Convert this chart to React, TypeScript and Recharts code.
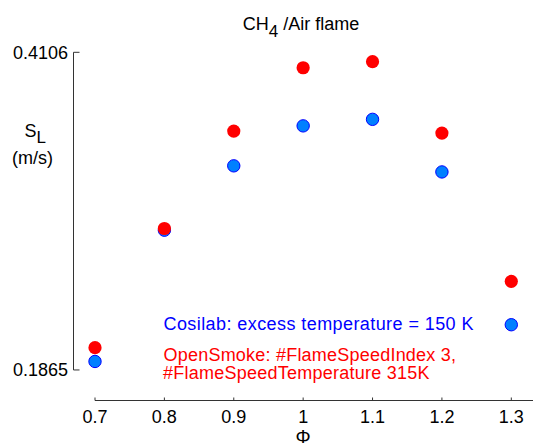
import React from 'react';
import { ScatterChart, Scatter, XAxis, YAxis, ReferenceLine } from 'recharts';

const phi = [0.7, 0.8, 0.9, 1.0, 1.1, 1.2, 1.3];
const cosilab = [0.1925, 0.2851, 0.3305, 0.3587, 0.3633, 0.3262, 0.2184];
const openSmoke = [0.2022, 0.2863, 0.355, 0.3997, 0.404, 0.3536, 0.249];
const xTicks = [0.7, 0.8, 0.9, 1.0, 1.1, 1.2, 1.3];
const yTicks = [0.1865, 0.4106];
const xDomain = [0.66901, 1.33128];
const yDomain = [0.16495, 0.4106];

const cosilabData = phi.map((x, i) => ({ x, y: cosilab[i] }));
const openSmokeData = phi.map((x, i) => ({ x, y: openSmoke[i] }));

const FONT = '"Liberation Sans", Arial, sans-serif';
const AXIS = '#333333';

const BlueDot = (p: any) => (
  <circle cx={p.cx} cy={p.cy} r={6.2} fill="#0080ff" stroke="#0000ff" strokeWidth={1} />
);
const RedDot = (p: any) => <circle cx={p.cx} cy={p.cy} r={6.6} fill="#ff0000" />;

const fmtX = (v: number) => (Math.abs(v - 1) < 1e-9 ? '1' : v.toFixed(1));

export default function App() {
  return (
    <div style={{ position: 'absolute', left: 0, top: 0, width: 534, height: 446, background: '#fff', fontFamily: FONT }}>
      <ScatterChart
        width={534}
        height={446}
        margin={{ top: 52.3, right: 1, bottom: 0, left: 0 }}
      >
        <XAxis
          type="number"
          dataKey="x"
          domain={xDomain}
          allowDataOverflow
          ticks={xTicks}
          tickFormatter={fmtX}
          height={45.5}
          axisLine={false}
          tickLine={{ stroke: AXIS }}
          tickSize={-3}
          tickMargin={13.2}
          tick={{ fill: '#000', fontSize: 18, fontFamily: FONT }}
          interval={0}
        />
        <YAxis
          type="number"
          dataKey="y"
          domain={yDomain}
          allowDataOverflow
          ticks={yTicks}
          tickFormatter={(v: number) => v.toFixed(4)}
          width={73.5}
          axisLine={false}
          tickLine={{ stroke: AXIS }}
          tickSize={-6}
          tickMargin={11.5}
          tick={{ fill: '#000', fontSize: 18, fontFamily: FONT }}
          interval={0}
        />
        <ReferenceLine
          segment={[{ x: xDomain[0], y: yTicks[0] }, { x: xDomain[0], y: yTicks[1] }]}
          stroke={AXIS}
          strokeWidth={1}
          ifOverflow="visible"
        />
        <ReferenceLine
          segment={[{ x: xTicks[0], y: yDomain[0] }, { x: xDomain[1], y: yDomain[0] }]}
          stroke={AXIS}
          strokeWidth={1}
          ifOverflow="visible"
        />
        <Scatter data={cosilabData} shape={BlueDot} isAnimationActive={false} />
        <Scatter data={openSmokeData} shape={RedDot} isAnimationActive={false} />
      </ScatterChart>
      <svg
        width={534}
        height={446}
        style={{ position: 'absolute', left: 0, top: 0, pointerEvents: 'none' }}
        fontFamily={FONT}
        fontSize={18}
      >
        <text x={301} y={30} textAnchor="middle" fill="#000">
          CH<tspan dy={6.5} fontSize={17}>4</tspan>
          <tspan dy={-6.5}> /Air flame</tspan>
        </text>
        <text x={24.5} y={137} fill="#000">
          S<tspan dy={6.3} fontSize={17}>L</tspan>
        </text>
        <text x={32.5} y={164} textAnchor="middle" fill="#000">(m/s)</text>
        <text x={303} y={443} textAnchor="middle" fill="#000" fontSize={19}>Φ</text>
        <text x={163.5} y={330} fill="#0000ff" textLength={310} lengthAdjust="spacing">
          Cosilab: excess temperature = 150 K
        </text>
        <text x={163.5} y={360.5} fill="#ff0000" textLength={292.5} lengthAdjust="spacing">
          OpenSmoke: #FlameSpeedIndex 3,
        </text>
        <text x={163} y={379.4} fill="#ff0000" textLength={266.5} lengthAdjust="spacing">
          #FlameSpeedTemperature 315K
        </text>
      </svg>
    </div>
  );
}
